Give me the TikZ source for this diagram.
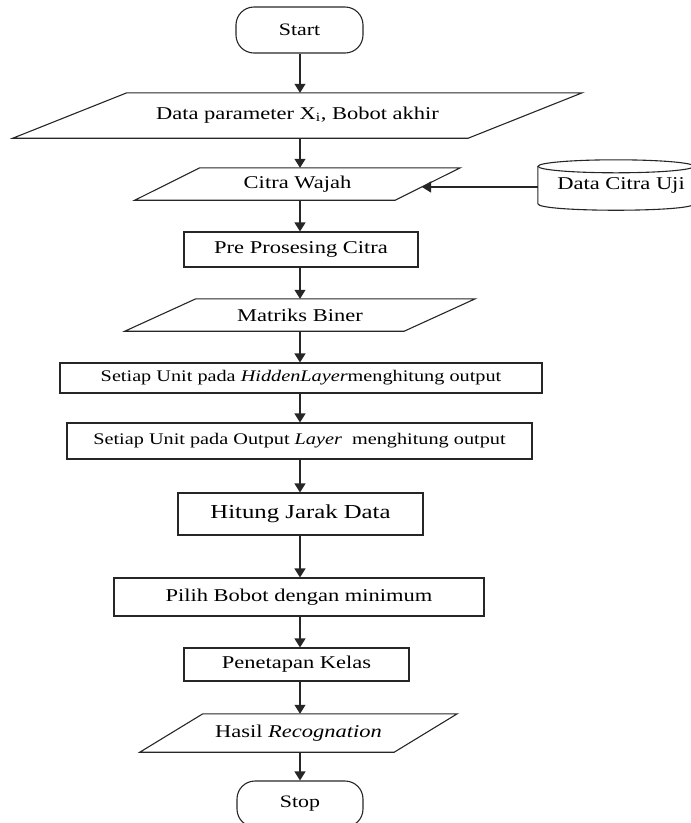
\documentclass[tikz,border=0pt]{standalone}
\usepackage{fontspec}
\setmainfont{Liberation Serif}[FakeStretch=1.25]
\usetikzlibrary{arrows.meta}
\begin{document}
\begin{tikzpicture}[x=1pt,y=-1pt]
\tikzset{
  ln/.style={draw=black!85, line width=1.1pt},
  box/.style={ln, rectangle, inner sep=0pt, align=center},
  io/.style={rectangle, inner sep=0pt, align=center},
  term/.style={ln, rectangle, rounded corners=18pt, inner sep=0pt, font=\fontsize{17.5}{21}\selectfont},
  arr/.style={ln, -{Triangle[width=11pt,length=9pt]}},
  tx/.style={font=\fontsize{18}{22}\selectfont},
  txs/.style={font=\fontsize{16.2}{20}\selectfont},
  txl/.style={font=\fontsize{19.8}{24}\selectfont}
}
\useasboundingbox (0,0) rectangle (691,823);

% nodes
\node[term, minimum width=127pt, minimum height=46pt] (start) at (299.5,30) {Start};
\node[io, tx, minimum width=569pt, minimum height=45pt] (p1) at (297.5,115.5) {\raisebox{5pt}{Data parameter X\textsubscript{i}, Bobot akhir}};
\node[io, tx, minimum width=325pt, minimum height=32pt] (cw) at (297.5,184) {Citra Wajah};
\node[io, tx, minimum width=156pt, minimum height=50pt] (db) at (616,185) {\hspace*{10pt}\raisebox{-3pt}{Data Citra Uji}};
\node[box, tx, minimum width=234pt, minimum height=35pt] (pre) at (301,249.5) {Pre Prosesing Citra};
\node[io, tx, minimum width=350pt, minimum height=32pt] (mb) at (300,315) {Matriks Biner};
\node[box, txs, minimum width=482pt, minimum height=30pt] (hid) at (301,378) {Setiap Unit pada \textit{HiddenLayer}menghitung output};
\node[box, txs, minimum width=465pt, minimum height=36pt] (out) at (299.5,441) {Setiap Unit pada Output \textit{Layer}\ \ menghitung output};
\node[box, txl, minimum width=245pt, minimum height=42pt] (hit) at (300.5,514) {Hitung Jarak Data};
\node[box, tx, minimum width=370pt, minimum height=38pt] (pil) at (299,597) {Pilih Bobot dengan minimum};
\node[box, tx, minimum width=225pt, minimum height=33pt] (pen) at (296.5,664.5) {Penetapan Kelas};
\node[io, tx, minimum width=317pt, minimum height=38pt] (has) at (298.5,733) {\raisebox{2pt}{Hasil \textit{Recognation}}};
\node[term, minimum width=126pt, minimum height=46pt] (stop) at (300,804) {Stop};

% parallelograms
\draw[ln] ([xshift=114pt]p1.north west) -- (p1.north east) -- ([xshift=-114pt]p1.south east) -- (p1.south west) -- cycle;
\draw[ln] ([xshift=65pt]cw.north west) -- (cw.north east) -- ([xshift=-65pt]cw.south east) -- (cw.south west) -- cycle;
\draw[ln] ([xshift=71pt]mb.north west) -- (mb.north east) -- ([xshift=-71pt]mb.south east) -- (mb.south west) -- cycle;
\draw[ln] ([xshift=63pt]has.north west) -- (has.north east) -- ([xshift=-63pt]has.south east) -- (has.south west) -- cycle;

% cylinder
\draw[ln] ([yshift=-6.5pt]db.north) ellipse [x radius=78pt, y radius=6.5pt];
\draw[ln] ([yshift=-6.5pt]db.north west) -- ([yshift=6.5pt]db.south west)
  .. controls +(0,8.7) and +(0,8.7) .. ([yshift=6.5pt]db.south east)
  -- ([yshift=-6.5pt]db.north east);

% connectors
\coordinate (ax) at (300,0);
\coordinate (cwr) at (422,187);
\draw[arr] (start.south -| ax) -- (p1.north -| ax);
\draw[arr] (p1.south -| ax) -- (cw.north -| ax);
\draw[arr] (db.west |- cwr) -- (cwr);
\draw[arr] (cw.south -| ax) -- (pre.north -| ax);
\draw[arr] (pre.south -| ax) -- (mb.north -| ax);
\draw[arr] (mb.south -| ax) -- (hid.north -| ax);
\draw[arr] (hid.south -| ax) -- (out.north -| ax);
\draw[arr] (out.south -| ax) -- (hit.north -| ax);
\draw[arr] (hit.south -| ax) -- (pil.north -| ax);
\draw[arr] (pil.south -| ax) -- (pen.north -| ax);
\draw[arr] (pen.south -| ax) -- (has.north -| ax);
\draw[arr] (has.south -| ax) -- (stop.north -| ax);
\end{tikzpicture}
\end{document}
